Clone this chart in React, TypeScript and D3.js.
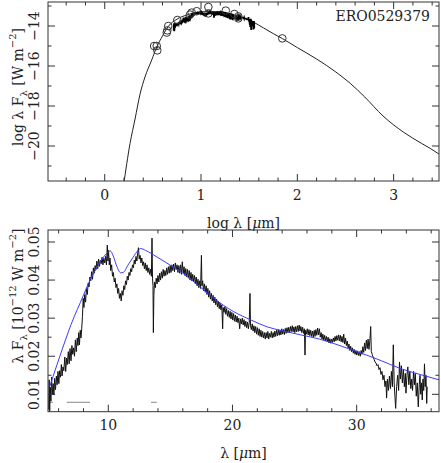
import React from "react";
import * as d3 from "d3";

// ---------- DATA ----------
const objectName = "ERO0529379";

// SED model (log lambda [um], log lambda F_lambda [W m^-2])
const modelLogLam = [0.195, 0.263, 0.315, 0.367, 0.418, 0.488, 0.54, 0.6, 0.66, 0.75, 0.85, 0.95, 1.05, 1.15, 1.25, 1.35, 1.45, 1.55, 1.65, 1.75, 1.845, 2.0, 2.2, 2.4, 2.55, 2.7, 2.89, 3.1, 3.29, 3.38, 3.47];
const modelLogF = [-22.0, -19.87, -18.65, -17.4, -16.55, -15.7, -15.05, -14.5, -14.02, -13.66, -13.45, -13.33, -13.28, -13.28, -13.33, -13.45, -13.6, -13.82, -14.1, -14.38, -14.63, -15.08, -15.65, -16.3, -16.87, -17.55, -18.5, -19.3, -19.87, -20.12, -20.4];

// Photometry (log lambda, log lambda F_lambda)
const photLogLam = [0.513, 0.54, 0.546, 0.644, 0.65, 0.66, 0.754, 0.886, 0.903, 0.955, 1.076, 1.076, 1.257, 1.346, 1.387, 1.387, 1.844];
const photLogF = [-15.0, -15.0, -15.22, -14.33, -14.22, -14.0, -13.7, -13.43, -13.33, -13.26, -13.05, -13.37, -13.23, -13.4, -13.52, -13.62, -14.62];

// IRS spectrum: [lambda um, lambda F_lambda in 1e-12 W m^-2]
const spectrum: [number, number][] = [
[5.20,0.0060],[5.24,0.0138],[5.28,0.0055],[5.33,0.0118],[5.38,0.0082],[5.43,0.0145],[5.50,0.0100],[5.56,0.0128],[5.62,0.0098],[5.68,0.0142],
[5.75,0.0112],[5.82,0.0148],[5.88,0.0125],[5.95,0.0160],[6.02,0.0128],[6.08,0.0162],[6.15,0.0145],[6.22,0.0178],[6.28,0.0148],[6.35,0.0172],
[6.42,0.0162],[6.50,0.0198],[6.57,0.0160],[6.64,0.0195],[6.70,0.0178],[6.78,0.0212],[6.85,0.0180],[6.92,0.0220],[7.00,0.0188],[7.07,0.0228],
[7.14,0.0205],[7.21,0.0222],[7.28,0.0200],[7.35,0.0243],[7.42,0.0212],[7.50,0.0248],[7.56,0.0228],[7.62,0.0262],[7.68,0.0230],[7.74,0.0268],
[7.80,0.0248],[7.86,0.0272],[7.92,0.0305],[7.98,0.0352],[8.04,0.0328],[8.10,0.0362],[8.17,0.0342],[8.24,0.0378],[8.31,0.0362],[8.38,0.0392],
[8.45,0.0382],[8.52,0.0408],[8.59,0.0398],[8.66,0.0422],[8.73,0.0402],[8.80,0.0432],[8.87,0.0418],[8.94,0.0438],[9.01,0.0428],[9.08,0.0450],
[9.15,0.0430],[9.22,0.0455],[9.29,0.0436],[9.36,0.0452],[9.43,0.0443],[9.50,0.0460],[9.57,0.0440],[9.64,0.0457],[9.71,0.0445],[9.78,0.0462],
[9.85,0.0440],[9.92,0.0492],[9.97,0.0450],[10.02,0.0478],[10.08,0.0440],[10.14,0.0458],[10.20,0.0425],[10.27,0.0440],[10.34,0.0410],[10.41,0.0420],
[10.48,0.0395],[10.55,0.0405],[10.62,0.0380],[10.69,0.0390],[10.76,0.0365],[10.83,0.0378],[10.90,0.0352],[10.97,0.0365],[11.04,0.0345],[11.11,0.0372],
[11.18,0.0360],[11.25,0.0385],[11.32,0.0375],[11.39,0.0398],[11.46,0.0388],[11.53,0.0410],[11.60,0.0400],[11.67,0.0420],[11.74,0.0412],[11.81,0.0430],
[11.88,0.0422],[11.95,0.0440],[12.02,0.0432],[12.09,0.0452],[12.16,0.0442],[12.23,0.0462],[12.30,0.0450],[12.37,0.0472],[12.43,0.0485],[12.49,0.0455],
[12.56,0.0465],[12.63,0.0445],[12.70,0.0458],[12.77,0.0438],[12.84,0.0448],[12.91,0.0430],[12.98,0.0445],[13.05,0.0425],[13.12,0.0440],[13.19,0.0420],
[13.26,0.0432],[13.33,0.0415],[13.40,0.0428],[13.47,0.0410],[13.52,0.0510],[13.56,0.0405],[13.60,0.0385],[13.63,0.0262],[13.67,0.0360],[13.72,0.0395],
[13.79,0.0380],[13.86,0.0405],[13.93,0.0390],[14.00,0.0412],[14.07,0.0395],[14.14,0.0418],[14.21,0.0400],[14.28,0.0422],[14.35,0.0405],[14.42,0.0428],
[14.49,0.0410],[14.56,0.0425],[14.63,0.0412],[14.70,0.0432],[14.77,0.0415],[14.84,0.0435],[14.91,0.0418],[14.98,0.0438],[15.05,0.0420],[15.12,0.0440],
[15.19,0.0425],[15.26,0.0442],[15.33,0.0422],[15.40,0.0445],[15.47,0.0428],[15.54,0.0440],[15.61,0.0420],[15.68,0.0438],[15.75,0.0418],[15.82,0.0440],
[15.89,0.0415],[15.96,0.0448],[16.03,0.0418],[16.10,0.0435],[16.17,0.0412],[16.24,0.0430],[16.31,0.0408],[16.38,0.0428],[16.45,0.0405],[16.52,0.0425],
[16.59,0.0400],[16.66,0.0420],[16.73,0.0398],[16.80,0.0415],[16.87,0.0395],[16.94,0.0412],[17.01,0.0390],[17.08,0.0408],[17.15,0.0385],[17.22,0.0402],
[17.29,0.0380],[17.36,0.0398],[17.43,0.0378],[17.50,0.0465],[17.54,0.0385],[17.60,0.0398],[17.67,0.0372],[17.74,0.0390],[17.81,0.0368],[17.88,0.0385],
[17.95,0.0362],[18.02,0.0378],[18.09,0.0355],[18.16,0.0372],[18.23,0.0350],[18.30,0.0365],[18.37,0.0345],[18.44,0.0360],[18.51,0.0340],[18.58,0.0355],
[18.65,0.0335],[18.72,0.0350],[18.79,0.0330],[18.86,0.0345],[18.93,0.0325],[19.00,0.0340],[19.07,0.0322],[19.14,0.0335],[19.21,0.0272],[19.25,0.0328],
[19.32,0.0315],[19.39,0.0330],[19.46,0.0310],[19.53,0.0325],[19.60,0.0305],[19.67,0.0320],[19.74,0.0302],[19.81,0.0318],[19.88,0.0298],[19.95,0.0315],
[20.02,0.0295],[20.09,0.0312],[20.16,0.0292],[20.23,0.0308],[20.30,0.0290],[20.37,0.0305],[20.44,0.0288],[20.51,0.0300],[20.58,0.0272],[20.65,0.0298],
[20.72,0.0285],[20.79,0.0300],[20.86,0.0282],[20.93,0.0296],[21.00,0.0278],[21.07,0.0292],[21.14,0.0275],[21.21,0.0290],[21.28,0.0272],[21.35,0.0288],
[21.41,0.0365],[21.45,0.0280],[21.52,0.0270],[21.59,0.0285],[21.66,0.0266],[21.73,0.0280],[21.80,0.0262],[21.87,0.0278],[21.94,0.0258],[22.01,0.0275],
[22.08,0.0255],[22.15,0.0272],[22.22,0.0252],[22.29,0.0268],[22.36,0.0250],[22.43,0.0265],[22.50,0.0248],[22.57,0.0262],[22.64,0.0245],[22.71,0.0262],
[22.78,0.0248],[22.85,0.0265],[22.92,0.0245],[22.99,0.0260],[23.06,0.0250],[23.13,0.0265],[23.20,0.0248],[23.27,0.0262],[23.34,0.0250],[23.41,0.0266],
[23.48,0.0252],[23.55,0.0268],[23.62,0.0254],[23.69,0.0270],[23.76,0.0255],[23.83,0.0268],[23.90,0.0256],[23.97,0.0272],[24.04,0.0258],[24.11,0.0270],
[24.18,0.0257],[24.25,0.0273],[24.32,0.0260],[24.39,0.0275],[24.46,0.0262],[24.53,0.0276],[24.60,0.0262],[24.67,0.0278],[24.74,0.0265],[24.81,0.0280],
[24.88,0.0264],[24.95,0.0277],[25.02,0.0262],[25.09,0.0278],[25.16,0.0264],[25.23,0.0280],[25.30,0.0265],[25.37,0.0282],[25.44,0.0266],[25.51,0.0278],
[25.58,0.0262],[25.65,0.0276],[25.72,0.0260],[25.79,0.0272],[25.84,0.0203],[25.88,0.0268],[25.95,0.0258],[26.02,0.0272],[26.09,0.0256],[26.16,0.0270],
[26.23,0.0254],[26.30,0.0268],[26.37,0.0252],[26.44,0.0266],[26.51,0.0250],[26.58,0.0268],[26.65,0.0252],[26.72,0.0270],[26.79,0.0255],[26.86,0.0274],
[26.93,0.0256],[27.00,0.0272],[27.07,0.0250],[27.14,0.0262],[27.21,0.0245],[27.28,0.0258],[27.35,0.0242],[27.42,0.0255],[27.49,0.0240],[27.56,0.0252],
[27.63,0.0238],[27.70,0.0250],[27.77,0.0235],[27.84,0.0246],[27.91,0.0234],[27.98,0.0245],[28.05,0.0236],[28.12,0.0248],[28.19,0.0238],[28.26,0.0252],
[28.33,0.0240],[28.40,0.0254],[28.47,0.0242],[28.54,0.0256],[28.61,0.0240],[28.68,0.0255],[28.75,0.0238],[28.82,0.0252],[28.89,0.0236],[28.96,0.0258],
[29.03,0.0232],[29.10,0.0248],[29.17,0.0228],[29.24,0.0240],[29.31,0.0222],[29.38,0.0232],[29.45,0.0215],[29.52,0.0226],[29.59,0.0212],[29.66,0.0222],
[29.73,0.0208],[29.80,0.0218],[29.87,0.0205],[29.94,0.0215],[30.01,0.0203],[30.08,0.0214],[30.15,0.0202],[30.22,0.0212],[30.29,0.0200],[30.36,0.0215],
[30.43,0.0205],[30.50,0.0225],[30.57,0.0210],[30.64,0.0235],[30.71,0.0215],[30.78,0.0242],[30.85,0.0220],[30.92,0.0245],[30.99,0.0218],[31.06,0.0240],
[31.13,0.0278],[31.18,0.0212],[31.25,0.0205],[31.32,0.0198],[31.40,0.0192],[31.48,0.0185],[31.56,0.0182],[31.64,0.0175],[31.72,0.0178],[31.80,0.0165],
[31.88,0.0170],[31.96,0.0152],[32.04,0.0160],[32.12,0.0138],[32.20,0.0150],[32.28,0.0120],[32.36,0.0135],[32.41,0.0090],[32.48,0.0140],[32.56,0.0110],
[32.64,0.0148],[32.72,0.0115],[32.80,0.0160],[32.88,0.0120],[32.95,0.0230],[33.02,0.0130],[33.08,0.0095],[33.14,0.0063],[33.22,0.0120],[33.30,0.0150],
[33.38,0.0110],[33.45,0.0185],[33.52,0.0140],[33.60,0.0175],[33.68,0.0130],[33.76,0.0165],[33.84,0.0120],[33.92,0.0155],[33.97,0.0103],[34.05,0.0150],
[34.12,0.0172],[34.20,0.0125],[34.28,0.0160],[34.36,0.0115],[34.43,0.0140],[34.50,0.0110],[34.58,0.0160],[34.65,0.0125],[34.72,0.0155],[34.80,0.0095],
[34.88,0.0130],[34.96,0.0067],[35.04,0.0125],[35.10,0.0150],[35.16,0.0100],[35.22,0.0130],[35.28,0.0085],[35.34,0.0140],[35.40,0.0110],[35.46,0.0180],
[35.52,0.0120],[35.58,0.0150],[35.64,0.0076],[35.68,0.0120]
];

// Blue model over the IRS range
const blueLam = [5.3, 6.1, 7.0, 8.0, 8.4, 9.0, 9.5, 10.0, 10.15, 10.4, 10.7, 11.0, 11.2, 11.6, 12.0, 12.4, 12.6, 13.0, 14.0, 15.0, 16.0, 17.4, 18.5, 20.1, 21.5, 22.8, 24.0, 25.5, 27.0, 28.1, 29.5, 30.8, 32.0, 33.5, 35.0, 36.63];
const blueVal = [0.0122, 0.0200, 0.0283, 0.0360, 0.0391, 0.0428, 0.0455, 0.0474, 0.0477, 0.0463, 0.0435, 0.0419, 0.0420, 0.0440, 0.0460, 0.0478, 0.0483, 0.0478, 0.0459, 0.0439, 0.0418, 0.0382, 0.0352, 0.0317, 0.0295, 0.0277, 0.0267, 0.0256, 0.0245, 0.0234, 0.0218, 0.0203, 0.0188, 0.0168, 0.0153, 0.0138];

// Grey horizontal segments in lower panel
const greySegments: [number, number][] = [[5.23, 5.55], [6.65, 8.53], [13.44, 13.9]];
const greyLevel = 0.0079;

// Ticks
const topXMajor = [0, 1, 2, 3];
const topXLabels = ["0", "1", "2", "3"];
const topYMajor = [-20, -18, -16, -14];
const topYLabels = ["\u221220", "\u221218", "\u221216", "\u221214"];
const botXMajor = [10, 20, 30];
const botXLabels = ["10", "20", "30"];
const botYMajor = [0.01, 0.02, 0.03, 0.04, 0.05];
const botYLabels = ["0.01", "0.02", "0.03", "0.04", "0.05"];

// ---------- LAYOUT ----------
const W = 441, H = 463;
const L = 48, R = 439;
const T1 = 2, B1 = 181;
const T2 = 230, B2 = 411.7;
const FONT = "'DejaVu Serif', serif";
const AX = "#333";

const xTop = d3.scaleLinear().domain([-0.589, 3.471]).range([L, R]);
const yTop = d3.scaleLinear().domain([-21.75, -12.8]).range([B1, T1]);
const xBot = d3.scaleLinear().domain([5.145, 36.63]).range([L, R]);
const yBot = d3.scaleLinear().domain([0.00543, 0.05315]).range([B2, T2]);

function Frame({ x, y, xMaj, xMin, yMaj, yMin, top, bottom }: any) {
  const MJ = 7, MN = 3.5;
  const lines: any[] = [];
  const pushX = (v: number, len: number, k: string) => {
    const px = x(v);
    lines.push(<line key={"xb" + k} x1={px} x2={px} y1={bottom} y2={bottom - len} />);
    lines.push(<line key={"xt" + k} x1={px} x2={px} y1={top} y2={top + len} />);
  };
  const pushY = (v: number, len: number, k: string) => {
    const py = y(v);
    lines.push(<line key={"yl" + k} x1={L} x2={L + len} y1={py} y2={py} />);
    lines.push(<line key={"yr" + k} x1={R} x2={R - len} y1={py} y2={py} />);
  };
  xMaj.forEach((v: number, i: number) => pushX(v, MJ, "M" + i));
  xMin.forEach((v: number, i: number) => pushX(v, MN, "m" + i));
  yMaj.forEach((v: number, i: number) => pushY(v, MJ, "M" + i));
  yMin.forEach((v: number, i: number) => pushY(v, MN, "m" + i));
  return (
    <g stroke={AX} strokeWidth={1} fill="none">
      {lines}
      <rect x={L} y={top} width={R - L} height={bottom - top} />
    </g>
  );
}

export default function App() {
  const topXMinor = d3.range(-4, 35, 2).map((d) => d / 10).filter((d) => !topXMajor.includes(d));
  const topYMinor = [-21, -19, -17, -15, -13];
  const botXMinor = d3.range(6, 37, 2).filter((d) => !botXMajor.includes(d));
  const botYMinor = [0.015, 0.025, 0.035, 0.045];

  const modelLine = d3.line<number>().x((d, i) => xTop(modelLogLam[i])).y((d, i) => yTop(modelLogF[i])).curve(d3.curveMonotoneX);
  const specTop = d3.line<[number, number]>().x((d) => xTop(Math.log10(d[0]))).y((d) => yTop(Math.log10(d[1]) - 12));
  const specBot = d3.line<[number, number]>().x((d) => xBot(d[0])).y((d) => yBot(d[1]));
  const blueLine = d3.line<number>().x((d, i) => xBot(blueLam[i])).y((d, i) => yBot(blueVal[i])).curve(d3.curveMonotoneX);

  return (
    <svg width={W} height={H} style={{ position: "absolute", left: 0, top: 0, background: "#fff" }} fontFamily={FONT}>
      <defs>
        <clipPath id="c1"><rect x={L} y={T1} width={R - L} height={B1 - T1} /></clipPath>
        <clipPath id="c2"><rect x={L} y={T2} width={R - L} height={B2 - T2} /></clipPath>
      </defs>
      <rect x={0} y={0} width={W} height={H} fill="#fff" />

      {/* ----- Top panel ----- */}
      <g clipPath="url(#c1)">
        <path d={modelLine(modelLogLam) || ""} fill="none" stroke="#222" strokeWidth={1} />
        <path d={specTop(spectrum) || ""} fill="none" stroke="#000" strokeWidth={1.8} />
        {photLogLam.map((v, i) => (
          <circle key={i} cx={xTop(v)} cy={yTop(photLogF[i])} r={3.8} fill="none" stroke="#333" strokeWidth={1} />
        ))}
      </g>
      <Frame x={xTop} y={yTop} xMaj={topXMajor} xMin={topXMinor} yMaj={topYMajor} yMin={topYMinor} top={T1} bottom={B1} />
      <g fill="#222" fontSize={14}>
        {topXMajor.map((v, i) => (
          <text key={i} x={xTop(v)} y={200} textAnchor="middle">{topXLabels[i]}</text>
        ))}
        {topYMajor.map((v, i) => (
          <text key={i} transform={`translate(39,${yTop(v)}) rotate(-90)`} textAnchor="middle">{topYLabels[i]}</text>
        ))}
        <text x={(L + R) / 2} y={228} textAnchor="middle">log λ [<tspan fontStyle="italic">μ</tspan>m]</text>
        <text transform={`translate(23,${87}) rotate(-90)`} textAnchor="middle">
          log λ F<tspan fontSize={10} dy={4}>λ</tspan><tspan dy={-4}> [W m</tspan><tspan fontSize={10} dy={-7}>−2</tspan><tspan dy={7}>]</tspan>
        </text>
        <text x={430} y={21} textAnchor="end" fontSize={14}>{objectName}</text>
      </g>

      {/* ----- Bottom panel ----- */}
      <g clipPath="url(#c2)">
        {greySegments.map((s, i) => (
          <line key={i} x1={xBot(s[0])} x2={xBot(s[1])} y1={yBot(greyLevel)} y2={yBot(greyLevel)} stroke="#888" strokeWidth={1} />
        ))}
        <path d={specBot(spectrum) || ""} fill="none" stroke="#111" strokeWidth={1} />
        <path d={blueLine(blueLam) || ""} fill="none" stroke="#3a3aff" strokeWidth={1} />
      </g>
      <Frame x={xBot} y={yBot} xMaj={botXMajor} xMin={botXMinor} yMaj={botYMajor} yMin={botYMinor} top={T2} bottom={B2} />
      <g fill="#222" fontSize={14}>
        {botXMajor.map((v, i) => (
          <text key={i} x={xBot(v)} y={430} textAnchor="middle">{botXLabels[i]}</text>
        ))}
        {botYMajor.map((v, i) => (
          <text key={i} transform={`translate(39,${yBot(v)}) rotate(-90)`} textAnchor="middle">{botYLabels[i]}</text>
        ))}
        <text x={(L + R) / 2} y={458} textAnchor="middle">λ [<tspan fontStyle="italic">μ</tspan>m]</text>
        <text transform={`translate(23,${296}) rotate(-90)`} textAnchor="middle">
          λ F<tspan fontSize={10} dy={4}>λ</tspan><tspan dy={-4}> [10</tspan><tspan fontSize={10} dy={-7}>−12</tspan><tspan dy={7}> W m</tspan><tspan fontSize={10} dy={-7}>−2</tspan><tspan dy={7}>]</tspan>
        </text>
      </g>
    </svg>
  );
}
